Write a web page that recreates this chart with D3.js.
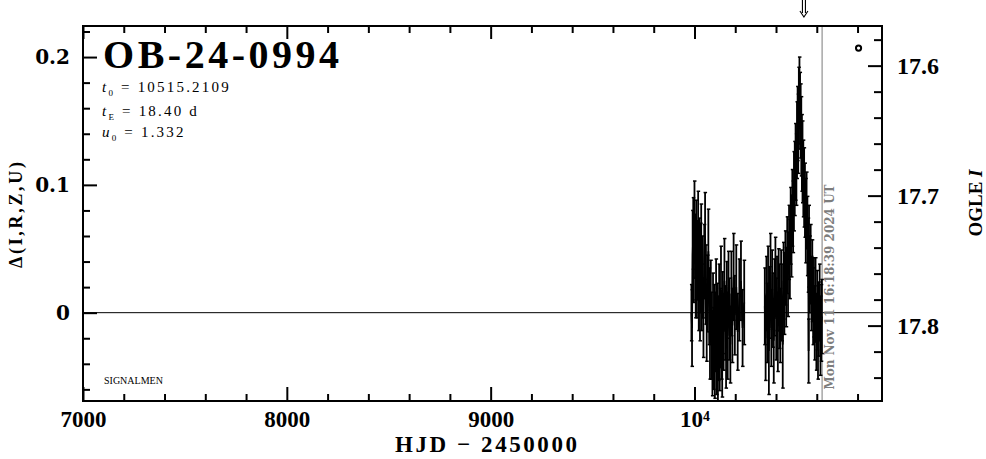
<!DOCTYPE html>
<html><head><meta charset="utf-8">
<script src="https://cdn.jsdelivr.net/npm/d3@7"></script>
<style>html,body{margin:0;padding:0;background:#fff;} svg{display:block;}</style>
</head><body>
<svg id="chart" width="986" height="459"></svg>
<script>
// ---------------- data ----------------
const eventName = "OB-24-0994";
const t0Value = "10515.2109";
const tEValue = "18.40 d";
const u0Value = "1.332";
const arrowHJD = 10537;
const nowHJD = 10626.2;
const nowLabel = "Mon Nov 11 16:18:39 2024 UT";
const sourceLabel = "SIGNALMEN";
const xMajorTicks = [7000, 8000, 9000, 10000];
const xTickLabels = ["7000", "8000", "9000", "10⁴"];
const yLeftTicks = [0, 0.1, 0.2];
const yLeftLabels = ["0", "0.1", "0.2"];
const yRightTicks = [17.6, 17.7, 17.8];
const yRightLabels = ["17.6", "17.7", "17.8"];

const hjd = [
 9985, 9988, 9991, 9994, 9997, 10000, 10003, 10006, 10009, 10012,
 10015, 10018, 10021, 10024, 10027, 10030, 10033, 10036, 10040, 10044,
 10048, 10052, 10056, 10060, 10064, 10068, 10072, 10076, 10080, 10084,
 10088, 10091, 10094, 10097, 10100, 10103, 10106, 10109, 10112, 10115,
 10118, 10121, 10124, 10127, 10130, 10133, 10136, 10139, 10143, 10147,
 10151, 10155, 10159, 10163, 10167, 10171, 10176, 10181, 10186, 10192,
 10198, 10205, 10212, 10220, 10228, 10236, 10244,
 10345, 10349, 10353, 10357, 10361, 10365, 10369, 10373, 10377, 10381,
 10385, 10389, 10393, 10397, 10401, 10405, 10409, 10413, 10417, 10421,
 10425, 10429, 10433, 10437, 10441, 10446, 10450, 10455, 10459, 10464,
 10468, 10472, 10476, 10480, 10484, 10488, 10492, 10496, 10500, 10503,
 10506, 10509, 10512, 10515, 10518, 10521, 10524, 10527, 10530, 10534,
 10538, 10542, 10546, 10550, 10554, 10558, 10560, 10562, 10566, 10570,
 10574, 10578, 10582, 10586, 10590, 10594, 10598, 10602, 10606, 10610,
 10614, 10618, 10622, 10625
];
const delta = [
 0.000, -0.012, 0.045, 0.062, 0.038, 0.071, 0.052, 0.030, 0.058, 0.024,
 0.041, 0.066, 0.019, 0.047, 0.008, 0.035, 0.055, 0.012, 0.028, -0.005,
 0.040, 0.060, 0.022, -0.010, 0.015, 0.048, 0.005, -0.025, 0.010, -0.018,
 -0.035, 0.002, -0.028, -0.008, -0.040, -0.015, 0.012, -0.030, -0.005, -0.045,
 -0.020, 0.008, -0.032, -0.012, 0.018, -0.022, -0.038, 0.000, -0.015, 0.025,
 -0.008, -0.028, 0.010, -0.018, 0.020, -0.005, -0.025, 0.015, -0.010, 0.028,
 -0.002, 0.020, -0.015, 0.010, 0.025, -0.012, 0.008,
 0.005, -0.020, 0.015, -0.008, 0.022, -0.030, 0.008, 0.030, -0.012, 0.018,
 0.002, -0.022, 0.012, 0.028, -0.005, 0.015, -0.015, 0.020, 0.005, -0.010,
 0.018, 0.008, -0.025, 0.025, 0.015, 0.035, 0.020, 0.045, 0.030, 0.055,
 0.042, 0.068, 0.060, 0.082, 0.075, 0.095, 0.105, 0.118, 0.112, 0.135,
 0.148, 0.140, 0.162, 0.172, 0.158, 0.150, 0.138, 0.125, 0.118, 0.105,
 0.098, 0.088, 0.072, 0.080, 0.060, 0.045, -0.030, 0.052, 0.030, 0.038,
 0.015, 0.025, 0.005, 0.012, -0.008, 0.010, -0.015, 0.002, -0.020, -0.005,
 0.008, -0.018, -0.008, -0.003
];
const err = [
 0.022, 0.030, 0.035, 0.028, 0.030, 0.032, 0.025, 0.034, 0.030, 0.028,
 0.031, 0.029, 0.033, 0.027, 0.030, 0.035, 0.030, 0.026, 0.032, 0.030,
 0.029, 0.034, 0.031, 0.028, 0.030, 0.033, 0.030, 0.027, 0.031, 0.034,
 0.030, 0.029, 0.032, 0.030, 0.027, 0.031, 0.030, 0.034, 0.028, 0.030,
 0.033, 0.030, 0.029, 0.031, 0.034, 0.030, 0.028, 0.032, 0.030, 0.033,
 0.029, 0.031, 0.030, 0.034, 0.028, 0.032, 0.030, 0.033, 0.029, 0.034,
 0.031, 0.033, 0.030, 0.032, 0.031, 0.030, 0.033,
 0.030, 0.033, 0.029, 0.031, 0.030, 0.034, 0.028, 0.032, 0.030, 0.031,
 0.029, 0.033, 0.030, 0.031, 0.032, 0.029, 0.031, 0.030, 0.033, 0.029,
 0.031, 0.030, 0.034, 0.030, 0.032, 0.029, 0.031, 0.030, 0.033, 0.029,
 0.031, 0.030, 0.032, 0.030, 0.028, 0.031, 0.029, 0.030, 0.028, 0.030,
 0.029, 0.031, 0.030, 0.028, 0.030, 0.029, 0.031, 0.030, 0.032, 0.030,
 0.031, 0.029, 0.033, 0.030, 0.031, 0.029, 0.025, 0.032, 0.030, 0.031,
 0.029, 0.032, 0.030, 0.031, 0.029, 0.033, 0.030, 0.031, 0.032, 0.029,
 0.030, 0.031, 0.030, 0.029
];

// ---------------- layout ----------------
const L = 83, R = 882, T = 26, B = 401;
const svg = d3.select("#chart");
const x = d3.scaleLinear().domain([7000, 10920]).range([L, R]);
const yD = d3.scaleLinear().domain([-0.0691, 0.2243]).range([B, T]);
const yM = d3.scaleLinear().domain([17.5695, 17.858]).range([T, B]);

const pts = hjd.map((t, i) => ({t, d: delta[i], e: err[i]}));
// split into observing seasons where there is a large gap
const seasons = [];
pts.forEach((p, i) => {
  if (i === 0 || p.t - pts[i - 1].t > 50) seasons.push([]);
  seasons[seasons.length - 1].push(p);
});

svg.append("defs").append("clipPath").attr("id", "clip")
  .append("rect").attr("x", L).attr("y", T).attr("width", R - L).attr("height", B - T);

const serifBold = "'Liberation Serif', 'DejaVu Serif', serif";

// zero line
svg.append("line").attr("x1", L).attr("x2", R).attr("y1", yD(0)).attr("y2", yD(0))
  .attr("stroke", "#000").attr("stroke-width", 1);

// now line
svg.append("line").attr("x1", x(nowHJD)).attr("x2", x(nowHJD)).attr("y1", T).attr("y2", B)
  .attr("stroke", "#999").attr("stroke-width", 1.3);

// data
const gData = svg.append("g").attr("clip-path", "url(#clip)");
gData.selectAll("path.season").data(seasons).join("path").attr("class", "season")
  .attr("d", d3.line().x(p => x(p.t)).y(p => yD(p.d)))
  .attr("fill", "none").attr("stroke", "#000").attr("stroke-width", 1.8);
const eb = gData.selectAll("g.eb").data(pts).join("g").attr("class", "eb");
eb.append("line").attr("x1", p => x(p.t)).attr("x2", p => x(p.t))
  .attr("y1", p => yD(p.d - p.e)).attr("y2", p => yD(p.d + p.e))
  .attr("stroke", "#000").attr("stroke-width", 1.8);
eb.append("line").attr("x1", p => x(p.t) - 1.5).attr("x2", p => x(p.t) + 2)
  .attr("y1", p => yD(p.d - p.e)).attr("y2", p => yD(p.d - p.e))
  .attr("stroke", "#000").attr("stroke-width", 1.5);
eb.append("line").attr("x1", p => x(p.t) - 1.5).attr("x2", p => x(p.t) + 2)
  .attr("y1", p => yD(p.d + p.e)).attr("y2", p => yD(p.d + p.e))
  .attr("stroke", "#000").attr("stroke-width", 1.5);

// axes ticks
function styleAxis(g) {
  g.select(".domain").remove();
  g.selectAll(".tick line").attr("stroke", "#000").attr("stroke-width", 2);
}
const xMinor = d3.range(7000, 10920, 200).filter(v => v % 1000 !== 0);
const yDMinor = d3.range(-0.06, 0.224, 0.02).filter(v => Math.abs(v * 10 - Math.round(v * 10)) > 1e-6);
const yMMinor = d3.range(17.58, 17.858, 0.02).filter(v => Math.abs(v * 10 - Math.round(v * 10)) > 1e-6);

// bottom
svg.append("g").attr("transform", `translate(0,${B})`)
  .call(d3.axisBottom(x).tickValues(xMinor).tickSize(-7).tickFormat("")).call(styleAxis);
const gxb = svg.append("g").attr("transform", `translate(0,${B})`)
  .call(d3.axisBottom(x).tickValues(xMajorTicks).tickSize(-14).tickPadding(10)
    .tickFormat((d, i) => xTickLabels[i])).call(styleAxis);
gxb.selectAll("text").attr("font-family", serifBold).attr("font-weight", "bold")
  .attr("font-size", 23).attr("fill", "#000");
// top
svg.append("g").attr("transform", `translate(0,${T})`)
  .call(d3.axisTop(x).tickValues(xMinor).tickSize(-7).tickFormat("")).call(styleAxis);
svg.append("g").attr("transform", `translate(0,${T})`)
  .call(d3.axisTop(x).tickValues(xMajorTicks).tickSize(-13).tickFormat("")).call(styleAxis);
// left
svg.append("g").attr("transform", `translate(${L},0)`)
  .call(d3.axisLeft(yD).tickValues(yDMinor).tickSize(-7).tickFormat("")).call(styleAxis);
const gyl = svg.append("g").attr("transform", `translate(${L},0)`)
  .call(d3.axisLeft(yD).tickValues(yLeftTicks).tickSize(-14).tickPadding(13)
    .tickFormat((d, i) => yLeftLabels[i])).call(styleAxis);
gyl.selectAll("text").attr("font-family", "'DejaVu Serif', serif").attr("font-weight", "bold")
  .attr("font-size", 20).attr("fill", "#000");
// right
svg.append("g").attr("transform", `translate(${R},0)`)
  .call(d3.axisRight(yM).tickValues(yMMinor).tickSize(-8).tickFormat("")).call(styleAxis);
const gyr = svg.append("g").attr("transform", `translate(${R},0)`)
  .call(d3.axisRight(yM).tickValues(yRightTicks).tickSize(-14).tickPadding(15)
    .tickFormat((d, i) => yRightLabels[i])).call(styleAxis);
gyr.selectAll("text").attr("font-family", serifBold).attr("font-weight", "bold")
  .attr("font-size", 24).attr("fill", "#000");

// frame
svg.append("rect").attr("x", L).attr("y", T).attr("width", R - L).attr("height", B - T)
  .attr("fill", "none").attr("stroke", "#000").attr("stroke-width", 2);

// title & params
svg.append("text").attr("x", 103).attr("y", 68).text(eventName)
  .attr("font-family", serifBold).attr("font-weight", "bold").attr("font-size", 40)
  .attr("textLength", 236).attr("lengthAdjust", "spacing");

const params = [
  {sym: "t", sub: "0", val: t0Value, y: 92},
  {sym: "t", sub: "E", val: tEValue, y: 116},
  {sym: "u", sub: "0", val: u0Value, y: 137}
];
params.forEach(p => {
  const t = svg.append("text").attr("x", 102).attr("y", p.y)
    .attr("font-family", "'Liberation Serif', serif").attr("font-size", 15)
    .attr("letter-spacing", 2.2);
  t.append("tspan").attr("font-style", "italic").text(p.sym);
  t.append("tspan").attr("font-size", 9).attr("dy", 4).text(p.sub);
  t.append("tspan").attr("dy", -4).text(" = " + p.val);
});

svg.append("text").attr("x", 104).attr("y", 384).text(sourceLabel)
  .attr("font-family", "'Liberation Serif', serif").attr("font-size", 10);

// axis titles
svg.append("text").attr("transform", `translate(486,452)`).attr("text-anchor", "middle")
  .attr("font-family", serifBold).attr("font-weight", "bold").attr("font-size", 23)
  .attr("textLength", 182).attr("lengthAdjust", "spacing")
  .text("HJD − 2450000");

svg.append("text").attr("transform", `translate(22,215) rotate(-90)`).attr("text-anchor", "middle")
  .attr("font-family", serifBold).attr("font-weight", "bold").attr("font-size", 18)
  .attr("textLength", 106).attr("lengthAdjust", "spacing")
  .text("Δ(I,R,Z,U)");

const ogle = svg.append("text").attr("transform", `translate(982,203) rotate(-90)`).attr("text-anchor", "middle")
  .attr("font-family", serifBold).attr("font-weight", "bold").attr("font-size", 19);
ogle.append("tspan").text("OGLE ");
ogle.append("tspan").attr("font-style", "italic").text("I");

// now label
svg.append("text").attr("transform", `translate(${x(nowHJD) + 12},287) rotate(-90)`)
  .attr("text-anchor", "middle").attr("fill", "#7d7d7d")
  .attr("font-family", "'DejaVu Serif', serif").attr("font-weight", "bold").attr("font-size", 12)
  .attr("textLength", 205).attr("lengthAdjust", "spacingAndGlyphs")
  .text(nowLabel);

// marker 'o'
svg.append("circle").attr("cx", x(10805)).attr("cy", yD(0.207)).attr("r", 2.6)
  .attr("fill", "none").attr("stroke", "#000").attr("stroke-width", 2);

// arrow at top
const ax = x(arrowHJD);
svg.append("path")
  .attr("d", `M${ax - 1.5},0 V13 M${ax + 1.5},0 V13 M${ax - 4},11 L${ax},17 L${ax + 4},11`)
  .attr("fill", "none").attr("stroke", "#000").attr("stroke-width", 1.1);
</script>
</body></html>
